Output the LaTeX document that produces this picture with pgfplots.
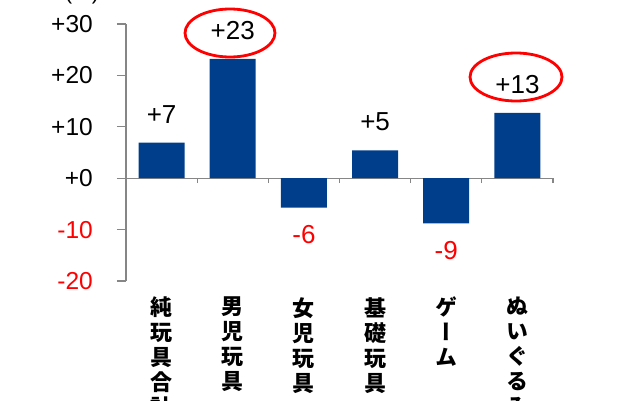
\documentclass[border=0pt]{standalone}
\usepackage{pgfplots}
\pgfplotsset{compat=1.18}
\usepackage{pgfplotstable}
\usepackage{fontspec}
\setmainfont{Liberation Sans}
\newfontfamily\jp[RawFeature=+vert]{Noto Sans CJK JP}
\definecolor{barblue}{RGB}{0,61,138}
\definecolor{axgray}{RGB}{134,134,134}
\definecolor{lblred}{RGB}{255,0,0}

\pgfplotstableread{
x y lab
0 6.9 +7
1 23.2 +23
3 5.4 +5
5 12.7 +13
}\pos
\pgfplotstableread{
x y lab
2 -5.7 -6
4 -8.8 -9
}\negs

\begin{document}
\begin{tikzpicture}
\begin{axis}[
  scale only axis, width=427pt, height=257pt,
  xmin=-0.5, xmax=5.5, ymin=-20, ymax=30,
  axis x line*=middle, axis y line*=left,
  axis line style={axgray, line width=1.2pt},
  xtick={-0.5,0.5,1.5,2.5,3.5,4.5,5.5}, xticklabels={},
  ytick={-20,-10,0,10,20,30},
  yticklabels={\textcolor{lblred}{-20},\textcolor{lblred}{-10},+0,+10,+20,+30},
  tick align=outside,
  major tick length=9pt,
  xtick style={axgray, line width=1.2pt, /pgfplots/major tick length=5pt},
  ytick style={axgray, line width=1.2pt},
  yticklabel style={font=\fontsize{24.5}{24.5}\selectfont, inner sep=0pt, xshift=-24pt},
  ybar, bar width=46pt, bar shift=0pt,
  point meta=explicit symbolic,
  nodes near coords,
  clip=false,
]
\addplot[fill=barblue, draw=none,
  every node near coord/.append style={anchor=south, inner sep=0pt, yshift=19pt, black, font=\fontsize{26}{26}\selectfont}]
  table[x=x, y=y, meta=lab]{\pos};
\addplot[fill=barblue, draw=none,
  every node near coord/.append style={anchor=north, inner sep=0pt, yshift=-18pt, lblred, font=\fontsize{26}{26}\selectfont}]
  table[x=x, y=y, meta=lab]{\negs};
\tikzset{catlab/.style={anchor=north, inner sep=0pt, yshift=-16pt, align=center, font=\jp\bfseries\fontsize{22}{25}\selectfont}}
\node[catlab] at (axis cs:0,-20) {純\\玩\\具\\合\\計};
\node[catlab] at (axis cs:1,-20) {男\\児\\玩\\具};
\node[catlab] at (axis cs:2,-20) {女\\児\\玩\\具};
\node[catlab] at (axis cs:3,-20) {基\\礎\\玩\\具};
\node[catlab] at (axis cs:4,-20) {ゲ\\ー\\ム};
\node[catlab] at (axis cs:5,-20) {ぬ\\い\\ぐ\\る\\み};
\end{axis}
\draw[red, line width=2.8pt] (104pt,248pt) ellipse [x radius=45pt, y radius=24pt];
\draw[red, line width=2.8pt] (390pt,204pt) ellipse [x radius=46pt, y radius=24pt];
\node[anchor=base, inner sep=0pt, font=\fontsize{22}{22}\selectfont] at (-44pt,282pt) {(\%)};
\pgfresetboundingbox
\useasboundingbox (-126pt,-119pt) rectangle (514pt,281pt);
\end{tikzpicture}
\end{document}
